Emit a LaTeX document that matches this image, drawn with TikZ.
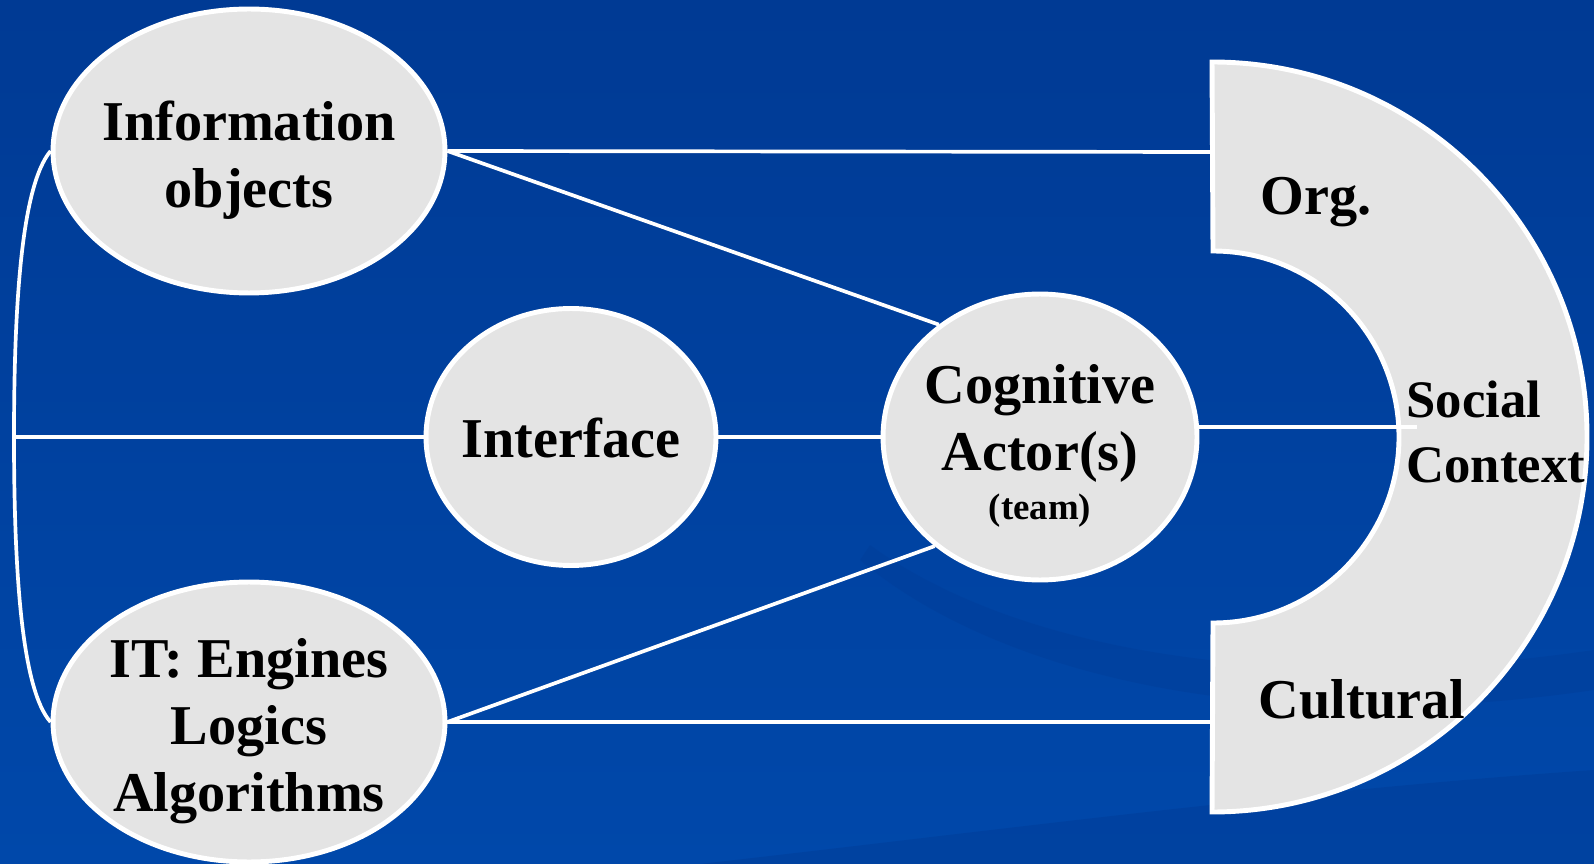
\documentclass[tikz,border=0pt]{standalone}
\usepackage{fontspec}
\setmainfont{Liberation Serif}
\usetikzlibrary{shapes.geometric}

\definecolor{bgtop}{RGB}{0,58,148}
\definecolor{bgmain}{RGB}{0,72,170}
\definecolor{bgdark}{RGB}{0,62,154}
\definecolor{bubblegray}{RGB}{228,228,228}

\begin{document}
\begin{tikzpicture}[x=0.02cm, y=-0.02cm,
	bubble/.style={ellipse, draw=white, line width=2.8pt, fill=bubblegray, inner sep=0pt},
	bubbletext/.style={inner sep=0pt, align=center, font=\bfseries\fontsize{32}{38}\selectfont},
	ringtext/.style={inner sep=0pt, font=\bfseries\fontsize{32}{38}\selectfont},
	link/.style={draw=white, line width=2.1pt}]

	% background
	\useasboundingbox (0,0) rectangle (1594,864);
	\shade[top color=bgtop, middle color=bgmain, bottom color=bgmain] (0,0) rectangle (1594,864);
	\fill[bgdark, opacity=.5] (870,545) .. controls (1000,640) and (1250,700) .. (1594,650)
		-- (1594,690) .. controls (1250,740) and (990,670) .. (860,560) -- cycle;
	\fill[bgdark, opacity=.6] (700,864) .. controls (1000,830) and (1300,790) .. (1594,770)
		-- (1594,864) -- cycle;

	% social context ring
	\draw[white, line width=2.8pt, fill=bubblegray]
	(1212,62) arc[start angle=-90, end angle=90, radius=375]
	-- (1213,623) arc[start angle=90, end angle=-90, radius=186] -- cycle;

	% bubbles
	\node[bubble, minimum width=7.84cm, minimum height=5.68cm] (info) at (249,151) {};
	\node[bubble, minimum width=5.8cm, minimum height=5.14cm] (iface) at (571,437) {};
	\node[bubble, minimum width=7.84cm, minimum height=5.6cm] (it) at (249,722) {};
	\node[bubble, minimum width=6.28cm, minimum height=5.72cm] (actor) at (1040,437) {};

	\node[bubbletext] (infotext) at (249,160) {Information\\objects};
	\node[bubbletext] (ifacetext) at (571,438) {Interface};
	\node[bubbletext] (ittext) at (249,731) {IT: Engines\\Logics\\Algorithms};
	\node[bubbletext] (actortext) at (1040,446)
	{Cognitive\\Actor(s)\\[-10pt]{\fontsize{21}{26}\selectfont (team)}};

	% ring texts
	\node[ringtext] (org) at (1316,202) {Org.};
	\node[ringtext] (cult) at (1362,699) {Cultural};
	\node[ringtext, align=left, anchor=west, font=\bfseries\fontsize{30}{37}\selectfont]
	(soc) at (1406,432) {Social\\Context};

	% end points
	\coordinate (orgin) at (1212,152);
	\coordinate (culin) at (1213,722);
	\coordinate (socin) at (1417,427);
	\coordinate (brk) at (14,437);

	% connectors
	\draw[link] (info.east) -- (orgin);
	\draw[link] (info.east) -- (actor.132);
	\draw[link] (brk) -- (iface.west);
	\draw[link] (iface.east) -- (actor.west);
	\draw[link] (actor.east |- socin) -- (socin);
	\draw[link] (it.east) -- (actor.226);
	\draw[link] (it.east) -- (culin);
	\draw[link] (info.west) .. controls (22,185) and (14,300) .. (brk)
	.. controls (14,575) and (22,690) .. (it.west);

\end{tikzpicture}
\end{document}
